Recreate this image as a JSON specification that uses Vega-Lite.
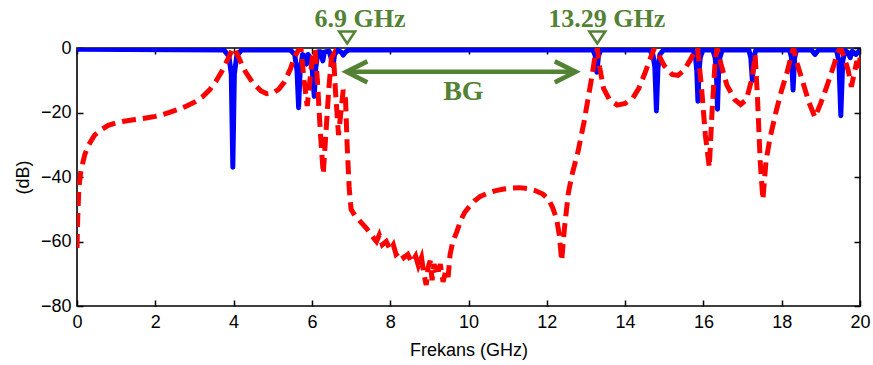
{
 "$schema": "https://vega.github.io/schema/vega-lite/v6.json",
 "width": 783, "height": 258,
 "autosize": "none",
 "padding": {"left": 77, "top": 48, "right": 13, "bottom": 59},
 "background": "white",
 "config": {
  "view": {"stroke": "#000", "strokeWidth": 1.6},
  "axis": {"grid": false, "domain": false, "labelFont": "Liberation Sans", "titleFont": "Liberation Sans", "labelFontSize": 18, "titleFontSize": 18, "titleFontWeight": "normal", "labelColor": "#000", "titleColor": "#000", "tickColor": "#000", "tickWidth": 1.5, "tickSize": -6, "labelFlush": false}
 },
 "datasets": {
  "blue": [
   {"f":0,"db":-0.4},{"f":3.75,"db":-0.6},{"f":3.88,"db":-2.5},{"f":3.94,"db":-8},{"f":3.98,"db":-37},{"f":4.02,"db":-8},{"f":4.08,"db":-2.5},{"f":4.2,"db":-0.6},
   {"f":5.45,"db":-0.6},{"f":5.56,"db":-2},{"f":5.62,"db":-7},{"f":5.66,"db":-18.5},{"f":5.7,"db":-7},{"f":5.76,"db":-2},{"f":5.82,"db":-2.5},{"f":5.86,"db":-5},{"f":5.9,"db":-2},{"f":5.96,"db":-3},{"f":6.01,"db":-7},{"f":6.06,"db":-15},{"f":6.1,"db":-6},{"f":6.16,"db":-1.2},{"f":6.23,"db":-1.2},{"f":6.28,"db":-4},{"f":6.32,"db":-1.2},{"f":6.44,"db":-1},{"f":6.5,"db":-3.5},{"f":6.54,"db":-5.5},{"f":6.58,"db":-2},{"f":6.66,"db":-0.7},{"f":6.74,"db":-1.2},{"f":6.8,"db":-2.2},{"f":6.86,"db":-1.2},{"f":6.95,"db":-0.6},
   {"f":13.18,"db":-0.6},{"f":13.24,"db":-2.5},{"f":13.28,"db":-7.5},{"f":13.32,"db":-2.5},{"f":13.38,"db":-0.6},
   {"f":14.62,"db":-0.6},{"f":14.71,"db":-2},{"f":14.76,"db":-6},{"f":14.8,"db":-19.5},{"f":14.84,"db":-6},{"f":14.89,"db":-2},{"f":14.98,"db":-0.6},
   {"f":15.74,"db":-0.6},{"f":15.8,"db":-3},{"f":15.83,"db":-7},{"f":15.86,"db":-16.5},{"f":15.89,"db":-7},{"f":15.92,"db":-3},{"f":15.98,"db":-0.6},
   {"f":16.24,"db":-0.6},{"f":16.3,"db":-3},{"f":16.33,"db":-7},{"f":16.36,"db":-19},{"f":16.39,"db":-7},{"f":16.42,"db":-3},{"f":16.48,"db":-0.6},
   {"f":17.16,"db":-0.6},{"f":17.21,"db":-3},{"f":17.25,"db":-10},{"f":17.29,"db":-3},{"f":17.34,"db":-0.6},
   {"f":18.2,"db":-0.6},{"f":18.25,"db":-3},{"f":18.29,"db":-13},{"f":18.33,"db":-3},{"f":18.38,"db":-0.6},
   {"f":18.76,"db":-0.6},{"f":18.85,"db":-2},{"f":18.94,"db":-0.6},
   {"f":19.4,"db":-0.6},{"f":19.46,"db":-4},{"f":19.51,"db":-21},{"f":19.56,"db":-4},{"f":19.62,"db":-0.8},{"f":19.7,"db":-1.5},{"f":19.75,"db":-3},{"f":19.8,"db":-1},{"f":19.9,"db":-2},{"f":20,"db":-0.6}
  ],
  "red": [
   {"f":0,"db":-62},{"f":0.02,"db":-52},{"f":0.05,"db":-43},{"f":0.1,"db":-38},{"f":0.2,"db":-33},{"f":0.3,"db":-30},{"f":0.45,"db":-27},{"f":0.6,"db":-25.5},{"f":0.8,"db":-24},{"f":1.0,"db":-23.2},{"f":1.2,"db":-22.7},{"f":1.4,"db":-22.3},{"f":1.6,"db":-22},{"f":1.8,"db":-21.6},{"f":2.0,"db":-21.2},{"f":2.2,"db":-20.6},{"f":2.4,"db":-19.8},{"f":2.6,"db":-19},{"f":2.8,"db":-18},{"f":3.0,"db":-16.8},{"f":3.2,"db":-15.2},{"f":3.4,"db":-12.8},{"f":3.55,"db":-10.3},{"f":3.7,"db":-7.2},{"f":3.8,"db":-4.8},{"f":3.9,"db":-2.2},{"f":3.97,"db":-0.3},{"f":4.0,"db":0},
   {"f":4.05,"db":-0.8},{"f":4.15,"db":-3.5},{"f":4.3,"db":-7.3},{"f":4.5,"db":-11},{"f":4.7,"db":-13.3},{"f":4.85,"db":-14.2},{"f":5.0,"db":-14},{"f":5.15,"db":-12.8},{"f":5.3,"db":-10.5},{"f":5.45,"db":-6.5},{"f":5.55,"db":-3},{"f":5.65,"db":-0.8},{"f":5.72,"db":0},
   {"f":5.8,"db":-10},{"f":5.88,"db":-18},{"f":5.95,"db":-10},{"f":6.02,"db":-2},{"f":6.08,"db":-0.5},{"f":6.14,"db":-10},{"f":6.22,"db":-27},{"f":6.29,"db":-39},{"f":6.36,"db":-26},{"f":6.43,"db":-13},{"f":6.5,"db":-3},{"f":6.55,"db":-2},{"f":6.6,"db":-13},{"f":6.68,"db":-27},{"f":6.74,"db":-20},{"f":6.8,"db":-13},{"f":6.86,"db":-16},{"f":6.9,"db":-30},{"f":6.95,"db":-43},{"f":7.0,"db":-50},
   {"f":7.1,"db":-52},{"f":7.25,"db":-54},{"f":7.4,"db":-56},{"f":7.55,"db":-58.5},{"f":7.65,"db":-60},{"f":7.72,"db":-58},{"f":7.8,"db":-61},{"f":7.9,"db":-60},{"f":8.0,"db":-62.5},{"f":8.08,"db":-61},{"f":8.15,"db":-64},{"f":8.25,"db":-63},{"f":8.35,"db":-65},{"f":8.45,"db":-64},{"f":8.55,"db":-66.5},{"f":8.65,"db":-64.5},{"f":8.72,"db":-67.5},{"f":8.8,"db":-65},{"f":8.86,"db":-70},{"f":8.92,"db":-73.5},{"f":8.97,"db":-68},{"f":9.02,"db":-66},{"f":9.07,"db":-72},{"f":9.12,"db":-67},{"f":9.2,"db":-70.5},{"f":9.28,"db":-67},{"f":9.35,"db":-72.5},{"f":9.42,"db":-69},{"f":9.48,"db":-71},{"f":9.53,"db":-64},
   {"f":9.6,"db":-60},{"f":9.7,"db":-57},{"f":9.8,"db":-53.5},{"f":9.9,"db":-51},{"f":10.0,"db":-49.5},{"f":10.15,"db":-47.5},{"f":10.3,"db":-46},{"f":10.5,"db":-45},{"f":10.7,"db":-44.2},{"f":10.9,"db":-43.7},{"f":11.1,"db":-43.4},{"f":11.3,"db":-43.3},{"f":11.5,"db":-43.6},{"f":11.7,"db":-44.2},{"f":11.9,"db":-45.3},{"f":12.05,"db":-47},{"f":12.15,"db":-49.5},{"f":12.25,"db":-53},{"f":12.32,"db":-58},{"f":12.38,"db":-66},
   {"f":12.45,"db":-56},{"f":12.55,"db":-45},{"f":12.65,"db":-39},{"f":12.8,"db":-32},{"f":12.95,"db":-23},{"f":13.05,"db":-16},{"f":13.15,"db":-9},{"f":13.22,"db":-3.5},{"f":13.29,"db":0},
   {"f":13.35,"db":-6},{"f":13.45,"db":-12.5},{"f":13.6,"db":-16},{"f":13.8,"db":-17.7},{"f":14.0,"db":-17.2},{"f":14.2,"db":-15.5},{"f":14.35,"db":-12.5},{"f":14.5,"db":-8},{"f":14.65,"db":-3},{"f":14.75,"db":0},
   {"f":14.85,"db":-2},{"f":15.0,"db":-5.5},{"f":15.2,"db":-8.2},{"f":15.35,"db":-8.5},{"f":15.5,"db":-7},{"f":15.65,"db":-4},{"f":15.8,"db":-0.5},{"f":15.85,"db":0},
   {"f":15.95,"db":-12},{"f":16.05,"db":-27},{"f":16.15,"db":-37},{"f":16.22,"db":-20},{"f":16.3,"db":-4},{"f":16.35,"db":0},
   {"f":16.45,"db":-5},{"f":16.6,"db":-11.5},{"f":16.8,"db":-16},{"f":16.95,"db":-17.5},{"f":17.1,"db":-16},{"f":17.25,"db":-9},{"f":17.32,"db":-2},
   {"f":17.38,"db":-15},{"f":17.45,"db":-35},{"f":17.52,"db":-47},{"f":17.6,"db":-35},{"f":17.7,"db":-28},{"f":17.85,"db":-20},{"f":18.0,"db":-13},{"f":18.15,"db":-7},{"f":18.25,"db":-2},{"f":18.3,"db":0},
   {"f":18.4,"db":-5},{"f":18.55,"db":-11},{"f":18.7,"db":-17},{"f":18.85,"db":-21.5},{"f":19.0,"db":-17},{"f":19.15,"db":-12},{"f":19.3,"db":-6.5},{"f":19.45,"db":-1},{"f":19.5,"db":0},
   {"f":19.6,"db":-3},{"f":19.7,"db":-7},{"f":19.78,"db":-12},{"f":19.85,"db":-8},{"f":19.92,"db":-4},{"f":19.97,"db":-7},{"f":20.0,"db":-3}
  ]
 },
 "resolve": {"axis": {"x": "independent", "y": "independent"}},
 "layer": [
  {
   "data": {"name": "blue"},
   "mark": {"type": "line", "color": "#0000FF", "strokeWidth": 5, "clip": true, "strokeJoin": "round"},
   "encoding": {
    "x": {"field": "f", "type": "quantitative", "scale": {"domain": [0, 20], "nice": false, "zero": false},
          "axis": {"orient": "bottom", "values": [0,2,4,6,8,10,12,14,16,18,20], "title": "Frekans (GHz)", "labelPadding": 13, "titleX": 391.5, "titleY": 44, "titleBaseline": "middle"}},
    "y": {"field": "db", "type": "quantitative", "scale": {"domain": [-80, 0], "nice": false, "zero": false},
          "axis": {"orient": "left", "values": [-80,-60,-40,-20,0], "title": "(dB)", "labelPadding": 12, "titleX": -54, "titleY": 129, "titleAngle": 270, "titleAlign": "center", "titleBaseline": "middle"}}
   }
  },
  {
   "data": {"name": "red"},
   "mark": {"type": "line", "color": "#FF0000", "strokeWidth": 5, "strokeDash": [14, 7], "clip": true},
   "encoding": {
    "x": {"field": "f", "type": "quantitative", "axis": {"orient": "top", "values": [0,2,4,6,8,10,12,14,16,18,20], "labels": false, "title": null}},
    "y": {"field": "db", "type": "quantitative", "axis": {"orient": "right", "values": [-80,-60,-40,-20,0], "labels": false, "title": null}}
   }
  },
  {
   "data": {"values": [{"a": 6.9, "b": 12.72, "y": -7.4}]},
   "mark": {"type": "rule", "color": "#548235", "strokeWidth": 4.5},
   "encoding": {
    "x": {"field": "a", "type": "quantitative", "axis": null},
    "x2": {"field": "b"},
    "y": {"field": "y", "type": "quantitative", "axis": null}
   }
  },
  {
   "data": {"values": [{"x": 6.88, "y": -7.4, "s": "M2,-1L0,0L2,1"}, {"x": 12.74, "y": -7.4, "s": "M-2,-1L0,0L-2,1"}]},
   "mark": {"type": "point", "filled": false, "stroke": "#548235", "strokeWidth": 4.5, "size": 441, "opacity": 1, "strokeJoin": "miter"},
   "encoding": {
    "x": {"field": "x", "type": "quantitative", "axis": null},
    "y": {"field": "y", "type": "quantitative", "axis": null},
    "shape": {"field": "s", "type": "nominal", "scale": null, "legend": null}
   }
  },
  {
   "data": {"values": [{"x": 6.9, "y": 3.26}, {"x": 13.29, "y": 3.26}]},
   "mark": {"type": "point", "filled": false, "stroke": "#548235", "strokeWidth": 2.5, "size": 256, "opacity": 1, "shape": "M-1,-0.75L1,-0.75L0,0.75Z", "clip": false},
   "encoding": {
    "x": {"field": "x", "type": "quantitative", "axis": null},
    "y": {"field": "y", "type": "quantitative", "axis": null}
   }
  },
  {
   "data": {"values": [{"x": 7.23, "y": 6.5, "t": "6.9 GHz", "s": 26}, {"x": 13.53, "y": 6.5, "t": "13.29 GHz", "s": 26}, {"x": 9.87, "y": -16.1, "t": "BG", "s": 28}]},
   "mark": {"type": "text", "font": "Liberation Serif", "fontWeight": "bold", "color": "#548235", "align": "center", "baseline": "alphabetic", "clip": false},
   "encoding": {
    "x": {"field": "x", "type": "quantitative", "axis": null},
    "y": {"field": "y", "type": "quantitative", "axis": null},
    "text": {"field": "t"},
    "size": {"field": "s", "type": "quantitative", "scale": null, "legend": null}
   }
  }
 ]
}
